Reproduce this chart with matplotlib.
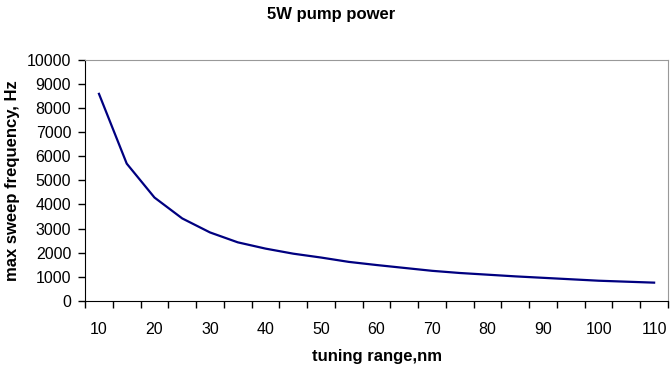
import numpy as np
import matplotlib
matplotlib.use('Agg')
import matplotlib.pyplot as plt

plt.rcParams['font.family'] = ['Liberation Sans', 'DejaVu Sans']

# tuning range (nm) and max sweep frequency (Hz)
tuning_range = [10, 15, 20, 25, 30, 35, 40, 45, 50, 55, 60,
                65, 70, 75, 80, 85, 90, 95, 100, 105, 110]
sweep_freq = [8580, 5690, 4285, 3420, 2840, 2430, 2170, 1960, 1800, 1620, 1490,
              1370, 1250, 1160, 1090, 1020, 960, 900, 840, 800, 760]
y_ticks = list(range(0, 10001, 1000))

fig = plt.figure(figsize=(6.7, 3.7), dpi=100)
ax = fig.add_axes([0.127, 0.1865, 0.870, 0.6525])

# category axis, Excel style: points sit in the middle of each slot
pos = np.arange(len(tuning_range)) + 0.5
ax.plot(pos, sweep_freq, color='#000080', linewidth=1.6)

ax.set_xlim(0, len(tuning_range))
ax.set_ylim(0, 10000)
ax.set_yticks(y_ticks)
ax.set_yticklabels([str(v) for v in y_ticks], fontsize=11.5)

# tick marks between categories, labels on every other category
ax.set_xticks(np.arange(len(tuning_range) + 1))
ax.set_xticklabels([])
ax.set_xticks(pos[::2], minor=True)
ax.set_xticklabels([str(v) for v in tuning_range[::2]], minor=True, fontsize=11.5)
ax.tick_params(axis='x', which='major', direction='out', length=5, width=1)
ax.tick_params(axis='x', which='minor', length=0, pad=15)
ax.tick_params(axis='y', direction='out', length=5, width=1, pad=5)

for side in ['top', 'right']:
    ax.spines[side].set_color('#999999')
for side in ['left', 'bottom']:
    ax.spines[side].set_color('black')

ax.set_xlabel('tuning range,nm', fontsize=12, fontweight='bold', labelpad=9)
ax.set_ylabel('max sweep frequency, Hz', fontsize=12, fontweight='bold', labelpad=5)
fig.text(0.494, 0.962, '5W pump power', ha='center', va='center',
         fontsize=12, fontweight='bold')

fig.savefig('out.png', dpi=100)
